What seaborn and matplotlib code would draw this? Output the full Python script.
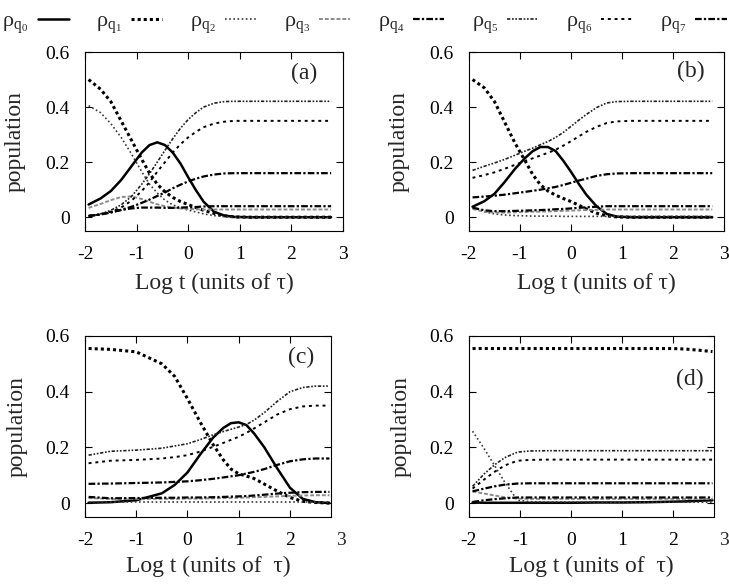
"""Population of the q-states vs log time, four panels (a)-(d)"""

import matplotlib
matplotlib.use("Agg")
import matplotlib.pyplot as plt
import matplotlib.transforms as mtransforms
import pandas as pd
import seaborn as sns

# ---- data ------------------------------------------------------------------
A_T = [-1.93, -1.7, -1.5, -1.3, -1.1, -0.9, -0.75, -0.6, -0.45, -0.3, -0.15, 0.0, 0.15, 0.3, 0.5, 0.7, 0.9, 1.2, 2.77]
A_Q0 = [0.046, 0.068, 0.095, 0.135, 0.185, 0.235, 0.262, 0.272, 0.262, 0.235, 0.195, 0.145, 0.098, 0.056, 0.02, 0.006, 0.001, 0.0, 0.0]
A_Q1 = [0.5, 0.465, 0.42, 0.35, 0.28, 0.21, 0.16, 0.12, 0.092, 0.072, 0.057, 0.046, 0.035, 0.025, 0.014, 0.005, 0.001, 0.0, 0.0]
A_Q2 = [0.405, 0.38, 0.34, 0.29, 0.23, 0.165, 0.12, 0.088, 0.062, 0.045, 0.034, 0.026, 0.019, 0.012, 0.006, 0.002, 0.0, 0.0, 0.0]
A_Q3 = [0.034, 0.048, 0.062, 0.073, 0.076, 0.066, 0.056, 0.047, 0.04, 0.035, 0.032, 0.03, 0.029, 0.028, 0.028, 0.028, 0.028, 0.028, 0.028]
A_Q4 = [0.005, 0.01, 0.017, 0.027, 0.038, 0.052, 0.064, 0.077, 0.09, 0.105, 0.118, 0.13, 0.14, 0.148, 0.155, 0.159, 0.16, 0.16, 0.16]
A_Q5 = [0.005, 0.012, 0.025, 0.045, 0.075, 0.12, 0.158, 0.2, 0.243, 0.285, 0.323, 0.355, 0.38, 0.4, 0.414, 0.42, 0.421, 0.421, 0.421]
A_Q6 = [0.005, 0.01, 0.02, 0.035, 0.06, 0.095, 0.127, 0.165, 0.2, 0.235, 0.265, 0.29, 0.31, 0.327, 0.34, 0.347, 0.35, 0.35, 0.35]
A_Q7 = [0.004, 0.01, 0.018, 0.026, 0.032, 0.035, 0.035, 0.035, 0.034, 0.034, 0.035, 0.036, 0.037, 0.039, 0.04, 0.04, 0.04, 0.04, 0.04]

B_T = [-1.93, -1.7, -1.5, -1.3, -1.1, -0.9, -0.75, -0.6, -0.45, -0.3, -0.15, 0.0, 0.15, 0.3, 0.5, 0.7, 0.9, 1.2, 2.77]
B_Q0 = [0.038, 0.058, 0.085, 0.128, 0.175, 0.215, 0.24, 0.255, 0.255, 0.24, 0.205, 0.165, 0.122, 0.082, 0.04, 0.012, 0.002, 0.0, 0.0]
B_Q1 = [0.5, 0.47, 0.42, 0.345, 0.27, 0.205, 0.155, 0.118, 0.095, 0.08, 0.068, 0.057, 0.044, 0.03, 0.015, 0.005, 0.001, 0.0, 0.0]
B_Q2 = [0.035, 0.02, 0.012, 0.008, 0.006, 0.005, 0.004, 0.004, 0.004, 0.004, 0.003, 0.003, 0.003, 0.003, 0.003, 0.003, 0.003, 0.003, 0.003]
B_Q3 = [0.03, 0.02, 0.017, 0.017, 0.018, 0.019, 0.02, 0.02, 0.021, 0.022, 0.023, 0.024, 0.025, 0.026, 0.027, 0.028, 0.028, 0.028, 0.028]
B_Q4 = [0.072, 0.075, 0.078, 0.082, 0.087, 0.092, 0.096, 0.1, 0.105, 0.11, 0.117, 0.125, 0.133, 0.14, 0.15, 0.156, 0.159, 0.16, 0.16]
B_Q5 = [0.17, 0.185, 0.197, 0.21, 0.225, 0.24, 0.251, 0.263, 0.275, 0.29, 0.308, 0.33, 0.352, 0.373, 0.398, 0.415, 0.42, 0.421, 0.421]
B_Q6 = [0.143, 0.153, 0.163, 0.176, 0.19, 0.204, 0.214, 0.224, 0.234, 0.245, 0.26, 0.276, 0.293, 0.31, 0.328, 0.342, 0.348, 0.35, 0.35]
B_Q7 = [0.035, 0.025, 0.022, 0.022, 0.023, 0.024, 0.025, 0.026, 0.027, 0.029, 0.03, 0.032, 0.034, 0.036, 0.038, 0.04, 0.04, 0.04, 0.04]

C_T = [-1.93, -1.5, -1.0, -0.5, -0.25, 0.0, 0.25, 0.5, 0.7, 0.85, 1.0, 1.15, 1.3, 1.5, 1.75, 2.0, 2.25, 2.5, 2.77]
C_Q0 = [0.001, 0.003, 0.01, 0.035, 0.065, 0.11, 0.175, 0.235, 0.27, 0.287, 0.29, 0.28, 0.25, 0.2, 0.125, 0.055, 0.015, 0.003, 0.0]
C_Q1 = [0.555, 0.552, 0.543, 0.5, 0.455, 0.375, 0.29, 0.21, 0.155, 0.122, 0.105, 0.097, 0.088, 0.068, 0.043, 0.02, 0.006, 0.002, 0.0]
C_Q2 = [0.002, 0.002, 0.002, 0.002, 0.002, 0.002, 0.002, 0.002, 0.002, 0.002, 0.002, 0.002, 0.002, 0.002, 0.002, 0.002, 0.002, 0.002, 0.002]
C_Q3 = [0.018, 0.015, 0.015, 0.015, 0.015, 0.016, 0.016, 0.017, 0.018, 0.018, 0.019, 0.02, 0.021, 0.022, 0.024, 0.026, 0.027, 0.028, 0.028]
C_Q4 = [0.069, 0.07, 0.072, 0.074, 0.076, 0.078, 0.082, 0.087, 0.092, 0.096, 0.1, 0.106, 0.112, 0.122, 0.137, 0.15, 0.157, 0.16, 0.16]
C_Q5 = [0.172, 0.186, 0.19, 0.197, 0.205, 0.213, 0.228, 0.245, 0.257, 0.265, 0.273, 0.282, 0.298, 0.325, 0.365, 0.4, 0.415, 0.42, 0.42]
C_Q6 = [0.143, 0.152, 0.155, 0.16, 0.165, 0.172, 0.185, 0.202, 0.216, 0.227, 0.238, 0.252, 0.268, 0.29, 0.318, 0.337, 0.347, 0.35, 0.35]
C_Q7 = [0.022, 0.017, 0.018, 0.019, 0.019, 0.02, 0.02, 0.021, 0.022, 0.023, 0.024, 0.025, 0.027, 0.03, 0.034, 0.037, 0.039, 0.04, 0.04]

D_T = [-1.93, -1.7, -1.5, -1.3, -1.05, -0.8, -0.5, 0.0, 0.5, 1.0, 1.5, 2.0, 2.25, 2.5, 2.77]
D_Q0 = [0.002, 0.001, 0.001, 0.001, 0.001, 0.001, 0.001, 0.001, 0.002, 0.002, 0.003, 0.005, 0.006, 0.008, 0.01]
D_Q1 = [0.555, 0.555, 0.555, 0.555, 0.555, 0.555, 0.555, 0.555, 0.555, 0.555, 0.555, 0.555, 0.553, 0.549, 0.544]
D_Q2 = [0.258, 0.195, 0.135, 0.075, 0.01, 0.005, 0.004, 0.004, 0.003, 0.003, 0.003, 0.003, 0.003, 0.003, 0.003]
D_Q3 = [0.042, 0.034, 0.027, 0.021, 0.016, 0.015, 0.015, 0.015, 0.015, 0.015, 0.015, 0.015, 0.015, 0.015, 0.015]
D_Q4 = [0.042, 0.052, 0.06, 0.066, 0.07, 0.071, 0.071, 0.071, 0.071, 0.071, 0.071, 0.071, 0.071, 0.071, 0.071]
D_Q5 = [0.06, 0.105, 0.137, 0.163, 0.183, 0.187, 0.188, 0.188, 0.188, 0.188, 0.188, 0.188, 0.188, 0.188, 0.188]
D_Q6 = [0.052, 0.085, 0.112, 0.135, 0.152, 0.155, 0.156, 0.156, 0.156, 0.156, 0.156, 0.156, 0.156, 0.156, 0.156]
D_Q7 = [0.004, 0.01, 0.014, 0.017, 0.02, 0.02, 0.02, 0.02, 0.02, 0.02, 0.02, 0.02, 0.02, 0.02, 0.02]

SERIES = ["q0", "q1", "q2", "q3", "q4", "q5", "q6", "q7"]
LEGEND_LABELS = [r"ρ$_{\mathrm{q}_{%d}}$" % i for i in range(8)]
PANEL_TAGS = ["(a)", "(b)", "(c)", "(d)"]
X_TICKS = [-2, -1, 0, 1, 2, 3]
Y_TICKS = [0, 0.2, 0.4, 0.6]
Y_TICK_LABELS = ["0", "0.2", "0.4", "0.6"]

PANELS = [
    (A_T, [A_Q0, A_Q1, A_Q2, A_Q3, A_Q4, A_Q5, A_Q6, A_Q7]),
    (B_T, [B_Q0, B_Q1, B_Q2, B_Q3, B_Q4, B_Q5, B_Q6, B_Q7]),
    (C_T, [C_Q0, C_Q1, C_Q2, C_Q3, C_Q4, C_Q5, C_Q6, C_Q7]),
    (D_T, [D_Q0, D_Q1, D_Q2, D_Q3, D_Q4, D_Q5, D_Q6, D_Q7]),
]

# gnuplot-ish line styles
STYLES = {
    "q0": dict(color="black", lw=1.8, ls="-"),
    "q1": dict(color="black", lw=2.2, ls=(0, (1, 1))),
    "q2": dict(color="#3a3a3a", lw=1.2, ls=(0, (1, 1.5))),
    "q3": dict(color="#8c8c8c", lw=1.4, ls=(0, (2, 1))),
    "q4": dict(color="black", lw=1.6, ls=(0, (3, 1, 1, 1))),
    "q5": dict(color="#222222", lw=1.2, ls=(0, (2, 1, 1, 1, 1, 1))),
    "q6": dict(color="black", lw=1.4, ls=(0, (1.5, 2))),
    "q7": dict(color="black", lw=1.6, ls=(0, (3, 1, 1, 1))),
}

sns.set_theme(style="ticks")
plt.rcParams["font.family"] = ["Liberation Serif", "DejaVu Serif"]
plt.rcParams["mathtext.fontset"] = "custom"
plt.rcParams["mathtext.rm"] = "Liberation Serif"
plt.rcParams["mathtext.it"] = "Liberation Serif:italic"
plt.rcParams["axes.unicode_minus"] = False

fig = plt.figure(figsize=(7.29, 5.87), dpi=100)

# axes boxes in figure fractions (left, bottom, width, height)
BOXES = [
    [0.1166, 0.6065, 0.3539, 0.3049],
    [0.6433, 0.6065, 0.3498, 0.3049],
    [0.1166, 0.1193, 0.3374, 0.3083],
    [0.6433, 0.1193, 0.3361, 0.3083],
]
XMAX = [3.0, 3.0, 2.8, 2.8]
XLABELS = ["Log t (units of τ)", "Log t (units of τ)",
           "Log t (units of  τ)", "Log t (units of  τ)"]
XLABEL_Y = [-0.235, -0.235, -0.215, -0.215]
TAG_POS = [(0.85, 0.88), (0.87, 0.89), (0.88, 0.88), (0.90, 0.76)]

axes = []
for i, (t, values) in enumerate(PANELS):
    ax = fig.add_axes(BOXES[i])
    axes.append(ax)
    for name, vals, lab in zip(SERIES, values, LEGEND_LABELS):
        df = pd.DataFrame({"t": t, "pop": vals})
        st = STYLES[name]
        sns.lineplot(data=df, x="t", y="pop", ax=ax, estimator=None, sort=False,
                     color=st["color"], linewidth=st["lw"], linestyle=st["ls"],
                     label=lab, legend=False)

    ax.set_xlim(-2, XMAX[i])
    ax.set_ylim(-0.05, 0.6)
    ax.set_xticks([x for x in X_TICKS if x <= XMAX[i]])
    ax.set_yticks(Y_TICKS)
    ax.set_yticklabels(Y_TICK_LABELS)
    ax.tick_params(direction="in", top=True, right=True, length=5, width=0.8,
                   labelsize=14, pad=11, colors="black")
    for sp in ax.spines.values():
        sp.set_linewidth(0.8)
        sp.set_color("black")

    if XMAX[i] < 3:
        # tick label "3" sits past the frame in the reference
        trans = mtransforms.blended_transform_factory(ax.transData, ax.transAxes)
        ax.annotate("3", xy=(3, 0), xycoords=trans, xytext=(0, -11),
                    textcoords="offset points", ha="center", va="top",
                    fontsize=14, annotation_clip=False)

    ax.set_xlabel(XLABELS[i], fontsize=17)
    ax.set_ylabel("population", fontsize=17)
    ax.xaxis.set_label_coords(0.5, XLABEL_Y[i])
    ax.yaxis.set_label_coords(-0.232, 0.5)
    ax.text(TAG_POS[i][0], TAG_POS[i][1], PANEL_TAGS[i], transform=ax.transAxes,
            ha="center", va="center", fontsize=17)

handles = axes[0].get_lines()[:8]
fig.legend(handles, LEGEND_LABELS, loc="upper center", bbox_to_anchor=(0.5, 1.0),
           ncol=8, frameon=False, markerfirst=False, fontsize=16,
           handlelength=1.4, handletextpad=0.4, columnspacing=1.25,
           borderaxespad=0.1)

fig.savefig("out.png", dpi=100)
